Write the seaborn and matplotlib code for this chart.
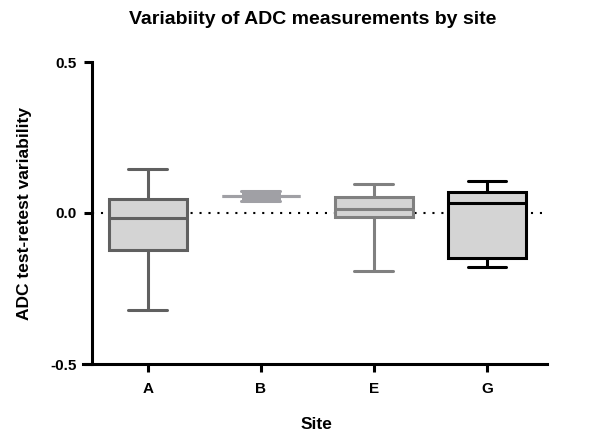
import numpy as np
import pandas as pd
import matplotlib
matplotlib.use("Agg")
import matplotlib.pyplot as plt
import seaborn as sns

# values: min, Q1, median, Q3, max for each site
sites = ["A", "B", "E", "G"]
site_a = [-0.320, -0.123, -0.017, 0.047, 0.146]
site_b = [0.041, 0.057, 0.057, 0.057, 0.072]
site_e = [-0.191, -0.012, 0.014, 0.052, 0.097]
site_g = [-0.178, -0.150, 0.032, 0.071, 0.107]

fills = ["#d4d4d4", "#a0a0a5", "#d4d4d4", "#d4d4d4"]
edges = ["#606060", "#a0a0a5", "#808080", "#000000"]

df = pd.DataFrame({
    "site": np.repeat(sites, 5),
    "value": site_a + site_b + site_e + site_g,
})

sns.set_style("ticks")
plt.rcParams["font.family"] = ["Liberation Sans", "DejaVu Sans"]
plt.rcParams["font.weight"] = "bold"
for k in ["text.color", "axes.labelcolor", "xtick.color", "ytick.color"]:
    plt.rcParams[k] = "black"

W, H = 592, 438
fig = plt.figure(figsize=(W / 100, H / 100), dpi=100)
ax = fig.add_axes([83 / W, 1 - 364 / H, 464 / W, 302 / H])

ax.axhline(0, color="black", lw=1.5, linestyle=(0, (1, 3.3)), zorder=0,
           xmin=(92 - 83) / 464)

box_lines = {}
for s, fc, ec in zip(sites, fills, edges):
    n0 = len(ax.lines)
    sns.boxplot(data=df[df["site"] == s], x="site", y="value", order=sites,
                color=fc, linecolor=ec, linewidth=2.2, width=0.69,
                whis=(0, 100), saturation=1, ax=ax)
    box_lines[s] = ax.lines[n0:]

ax.set_xlim(-0.575, 3.531)
ax.set_ylim(-0.5, 0.5)
ax.set_yticks([-0.5, 0.0, 0.5])
ax.set_yticklabels(["-0.5", "0.0", "0.5"])

# site B: whiskers drawn as thick bars (box collapses to its median)
px = ax.transData.transform([(0.345, 0), (0, 0)])
cap_pt = abs(px[0, 0] - px[1, 0]) * 72 / fig.dpi
for ln in box_lines["B"]:
    xd = np.asarray(ln.get_xdata(), dtype=float)
    yd = np.asarray(ln.get_ydata(), dtype=float)
    if len(xd) == 2 and xd[0] == xd[1] and yd[0] != yd[1]:
        ln.set_linewidth(cap_pt)
        ln.set_solid_capstyle("butt")

sns.despine(ax=ax)
ax.spines["left"].set_position(("data", -0.496))
for sp in ["left", "bottom"]:
    ax.spines[sp].set_linewidth(2.2)
    ax.spines[sp].set_color("black")
ax.tick_params(axis="both", width=2.2, length=6, color="black",
               labelcolor="black", labelsize=11)
ax.tick_params(axis="x", pad=7)
ax.tick_params(axis="y", pad=5)

ax.set_xlabel("Site", fontsize=12.5, fontweight="bold")
ax.set_ylabel("ADC test-retest variability", fontsize=12.5, fontweight="bold")
ax.xaxis.set_label_coords(0.504, -0.177)
ax.yaxis.set_label_coords(-0.110, 0.5)

fig.text(313 / W, 1 - 20 / H, "Variabiity of ADC measurements by site",
         ha="center", va="center", fontsize=14, fontweight="bold")

fig.savefig("out.png", dpi=100)
